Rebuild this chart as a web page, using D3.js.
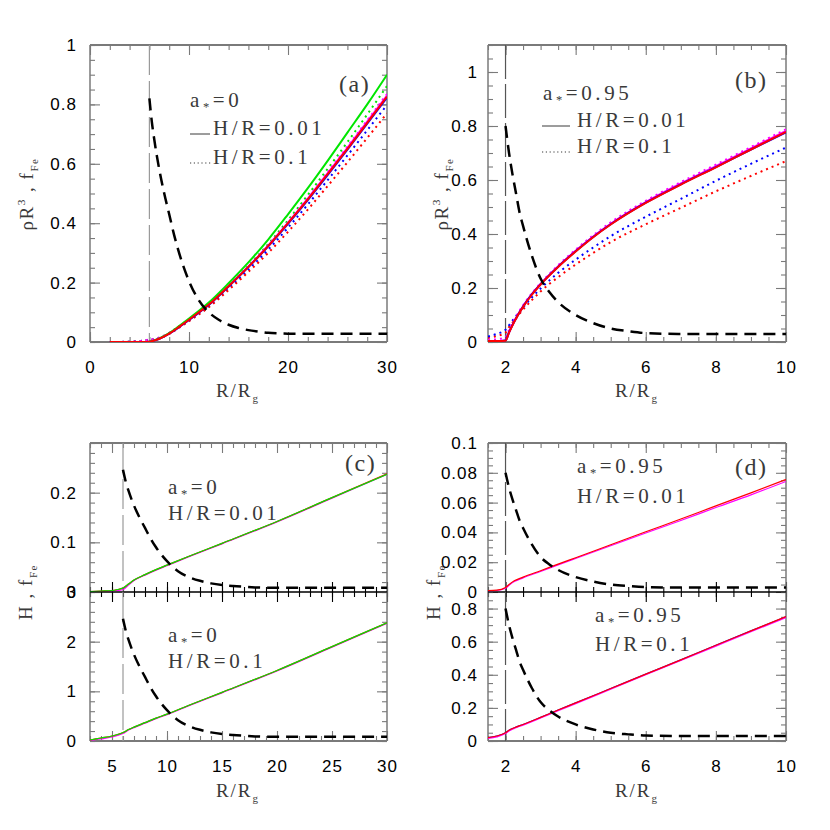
<!DOCTYPE html>
<html><head><meta charset="utf-8">
<script src="https://cdn.jsdelivr.net/npm/d3@7"></script>
<style>body{margin:0;background:#fff} svg{display:block}</style>
</head><body>
<svg id="chart" width="830" height="830"></svg>
<script>
// ---------------- DATA ----------------
// Panel (a): a*=0, rho R^3 vs R/Rg
const rA = [2,4,5,5.5,6,7,8,9,10,11,12,14,16,18,20,22,24,26,28,30];
const aGreenSolid   = [0,0,0,0,0.001,0.012,0.03,0.054,0.079,0.105,0.133,0.198,0.268,0.345,0.43,0.518,0.61,0.705,0.8,0.9];
const aMagentaSolid = [0,0,0,0,0.001,0.011,0.028,0.051,0.075,0.1,0.127,0.189,0.254,0.325,0.402,0.483,0.568,0.654,0.742,0.83];
const aBlueSolid    = [0,0,0,0,0.001,0.011,0.028,0.05,0.074,0.099,0.125,0.187,0.252,0.322,0.398,0.478,0.562,0.648,0.735,0.823];
const aRedSolid     = [0,0,0,0,0.001,0.011,0.028,0.051,0.075,0.1,0.126,0.188,0.253,0.323,0.4,0.48,0.565,0.65,0.738,0.826];
const aGreenDot     = [0,0.001,0.003,0.005,0.007,0.014,0.031,0.053,0.077,0.102,0.128,0.19,0.257,0.33,0.41,0.495,0.583,0.673,0.766,0.862];
const aMagentaDot   = [0,0.001,0.003,0.006,0.008,0.015,0.031,0.052,0.076,0.1,0.126,0.188,0.254,0.325,0.403,0.485,0.571,0.658,0.746,0.835];
const aBlueDot      = [0,0.001,0.003,0.005,0.007,0.013,0.029,0.05,0.073,0.097,0.121,0.181,0.244,0.311,0.385,0.463,0.545,0.628,0.713,0.798];
const aRedDot       = [0,0,0.002,0.004,0.006,0.012,0.027,0.048,0.07,0.093,0.117,0.175,0.236,0.3,0.371,0.446,0.525,0.605,0.687,0.77];
const rFeA = [6,6.25,6.5,7,7.5,8,8.5,9,10,11,12,13,14,15,16,17,18,19,20,30];
const aFe  = [0.82,0.74,0.68,0.58,0.5,0.43,0.36,0.3,0.205,0.14,0.1,0.075,0.058,0.047,0.04,0.035,0.031,0.029,0.028,0.028];

// Panel (b): a*=0.95
const rB = [1.5,1.75,2,2.1,2.25,2.5,2.75,3,3.5,4,4.5,5,6,7,8,9,10];
const bMagentaSolid = [0.004,0.004,0.006,0.036,0.077,0.132,0.177,0.215,0.28,0.338,0.391,0.438,0.518,0.587,0.651,0.717,0.782];
const bBlueSolid    = [0.004,0.004,0.006,0.036,0.076,0.131,0.176,0.214,0.279,0.336,0.389,0.436,0.516,0.584,0.648,0.713,0.776];
const bRedSolid     = [0.004,0.004,0.005,0.035,0.075,0.13,0.175,0.213,0.278,0.335,0.388,0.435,0.515,0.583,0.647,0.713,0.778];
const bMagentaDot   = [0.008,0.01,0.018,0.045,0.083,0.136,0.18,0.218,0.284,0.342,0.395,0.443,0.523,0.592,0.657,0.722,0.788];
const bBlueDot      = [0.02,0.03,0.045,0.062,0.088,0.128,0.165,0.198,0.256,0.305,0.35,0.392,0.464,0.53,0.597,0.66,0.72];
const bRedDot       = [0.015,0.022,0.035,0.055,0.08,0.12,0.155,0.187,0.24,0.287,0.33,0.37,0.436,0.497,0.558,0.615,0.67];
const rFeB = [2,2.1,2.2,2.3,2.4,2.5,2.75,3,3.25,3.5,4,4.5,5,5.5,6,7,10];
const bFe  = [0.8,0.7,0.62,0.55,0.48,0.43,0.32,0.235,0.185,0.148,0.1,0.07,0.05,0.04,0.033,0.03,0.03];

// Panel (c): a*=0, H vs R/Rg
const rC = [3,4,5,5.5,6,6.5,7,8,9,10,12,15,20,25,30];
const cTopMagenta = [0.0005,0.001,0.002,0.003,0.005,0.014,0.023,0.034,0.044,0.053,0.071,0.097,0.141,0.189,0.237];
const cTopRed     = [0.001,0.002,0.003,0.005,0.008,0.016,0.024,0.035,0.045,0.054,0.072,0.098,0.142,0.19,0.238];
const cTopGreen   = [0.001,0.002,0.003,0.005,0.008,0.016,0.024,0.035,0.045,0.054,0.072,0.098,0.142,0.19,0.237];
const cBotMagenta = [0.01,0.04,0.08,0.11,0.15,0.22,0.27,0.36,0.45,0.53,0.71,0.97,1.41,1.89,2.37];
const cBotRed     = [0.02,0.06,0.1,0.13,0.17,0.23,0.28,0.37,0.46,0.54,0.72,0.98,1.42,1.9,2.38];
const cBotGreen   = [0.02,0.06,0.1,0.13,0.17,0.23,0.28,0.37,0.46,0.54,0.72,0.98,1.42,1.9,2.38];
const cFeTop = [0.246,0.222,0.204,0.174,0.15,0.129,0.108,0.09,0.062,0.042,0.03,0.0225,0.0174,0.0141,0.012,0.0105,0.0093,0.0087,0.0084,0.0084];
const cFeBot = [2.46,2.22,2.04,1.74,1.5,1.29,1.08,0.9,0.62,0.42,0.3,0.225,0.174,0.141,0.12,0.105,0.093,0.087,0.084,0.084];

// Panel (d): a*=0.95, H vs R/Rg
const rD = [1.5,1.75,2,2.1,2.25,2.5,3,3.5,4,5,6,7,8,9,10];
const dTopMagenta = [0.0008,0.001,0.0025,0.0045,0.007,0.0095,0.0138,0.0182,0.0225,0.031,0.0396,0.048,0.0567,0.0652,0.0742];
const dTopRed     = [0.001,0.0012,0.003,0.005,0.0075,0.01,0.0143,0.0187,0.023,0.0317,0.0404,0.049,0.0578,0.0665,0.0755];
const dBotBlue    = [0.02,0.03,0.05,0.065,0.08,0.1,0.143,0.187,0.23,0.317,0.404,0.49,0.578,0.665,0.75];
const dBotMagenta = [0.015,0.025,0.045,0.06,0.076,0.096,0.139,0.183,0.226,0.313,0.4,0.486,0.573,0.66,0.746];
const dBotRed     = [0.02,0.03,0.05,0.065,0.08,0.1,0.143,0.187,0.23,0.317,0.404,0.49,0.578,0.665,0.752];
const dFeTop = [0.08,0.07,0.062,0.055,0.048,0.043,0.032,0.0235,0.0185,0.0148,0.01,0.007,0.005,0.004,0.0033,0.003,0.003];
const dFeBot = [0.8,0.7,0.62,0.55,0.48,0.43,0.32,0.235,0.185,0.148,0.1,0.07,0.05,0.04,0.033,0.03,0.03];

// Tick labels
const xLabA = [0,10,20,30];
const xLabB = [2,4,6,8,10];
const xLabC = [5,10,15,20,25,30];
const yLabA = [0,0.2,0.4,0.6,0.8,1];
const yLabCTop = [0,0.1,0.2];
const yLabCBot = [0,1,2,3];
const yLabDTop = [0,0.02,0.04,0.06,0.08,0.1];
const yLabDBot = [0,0.2,0.4,0.6,0.8];

// ---------------- DRAWING ----------------
const svg = d3.select("#chart");
const FRAME = "#7a7a7a";
const TXT = "#3a3a3a";
const SERIF = "'Liberation Serif','DejaVu Serif',serif";
const SANS = "'Liberation Sans',Arial,sans-serif";
const COL = {red:"#ff0000", green:"#00e600", blue:"#0000ff", magenta:"#ff00ff"};

function steps(lo, hi, step){
  const n = Math.floor((hi-lo)/step + 1e-6);
  return d3.range(n+1).map(i => +(lo+i*step).toFixed(6)).filter(v => v <= hi + 1e-9);
}
const fmt = d => String(+(+d).toFixed(3));

let clipId = 0;
function panel(o){
  const x = d3.scaleLinear().domain(o.xd).range([o.l, o.r]);
  const y = d3.scaleLinear().domain(o.yd).range([o.b, o.t]);
  const g = svg.append("g");
  const xMin = steps(o.xd[0], o.xd[1], o.xMin);
  const xMaj = o.xMaj;
  const yMin = steps(o.yd[0], o.yd[1], o.yMin);
  const yMaj = steps(o.yd[0], o.yd[1], o.yMajStep);
  const ax = (gen, tr, vals, size, labels, col) => {
    const a = gen.tickValues(vals).tickSize(-size).tickPadding(o.pad || 12)
      .tickFormat(labels ? fmt : "");
    const s = g.append("g").attr("transform", tr).call(a);
    s.select(".domain").remove();
    s.selectAll("line").attr("stroke", col || FRAME).attr("stroke-width", 1.1);
    s.selectAll("text").attr("font-family", SANS).attr("font-size", 17).attr("fill", "#000")
      .attr("letter-spacing", 1);
    return s;
  };
  ax(d3.axisLeft(y), `translate(${o.l},0)`, yMin, 5, false);
  ax(d3.axisLeft(y), `translate(${o.l},0)`, yMaj, 10, false);
  if (o.yLab) ax(d3.axisLeft(y), `translate(${o.l},0)`, o.yLab, 0, true);
  ax(d3.axisRight(y), `translate(${o.r},0)`, yMin, 5, false);
  ax(d3.axisRight(y), `translate(${o.r},0)`, yMaj, 10, false);
  const bCol = o.bottomBlack ? "#000" : FRAME;
  const tCol = o.topBlack ? "#000" : FRAME;
  ax(d3.axisBottom(x), `translate(0,${o.b})`, xMin, 5, false, bCol);
  ax(d3.axisBottom(x), `translate(0,${o.b})`, xMaj, 10, false, bCol);
  if (o.xLab){
    const s = ax(d3.axisBottom(x), `translate(0,${o.b})`, o.xLab, 0, true);
    s.selectAll("text").attr("dy", "0.71em").attr("y", 19);
  }
  ax(d3.axisTop(x), `translate(0,${o.t})`, xMin, 5, false, tCol);
  ax(d3.axisTop(x), `translate(0,${o.t})`, xMaj, 10, false, tCol);
  const fl = (x1,x2,y1,y2,c,w) => g.append("line").attr("x1",x1).attr("x2",x2).attr("y1",y1).attr("y2",y2).attr("stroke",c).attr("stroke-width",w);
  fl(o.l,o.l,o.t,o.b,FRAME,1.5);
  fl(o.r,o.r,o.t,o.b,FRAME,1.5);
  fl(o.l,o.r,o.t,o.t,tCol,o.topBlack?1.2:1.8);
  fl(o.l,o.r,o.b,o.b,bCol,o.bottomBlack?1.2:1.8);
  const id = "clip" + (clipId++);
  svg.append("clipPath").attr("id", id).append("rect")
    .attr("x", o.l).attr("y", o.t-1).attr("width", o.r-o.l).attr("height", o.b-o.t+1);
  const plot = svg.append("g").attr("clip-path", `url(#${id})`);
  return {x, y, plot};
}

function curve(P, rs, vs, color, style, width){
  const line = d3.line().x(d=>P.x(d[0])).y(d=>P.y(d[1])).curve(d3.curveMonotoneX);
  const pts = rs.map((r,i)=>[r, vs[i]]);
  const p = P.plot.append("path").attr("d", line(pts)).attr("fill","none")
    .attr("stroke", color).attr("stroke-width", width);
  if (style === "dot") p.attr("stroke-dasharray", "2,4");
  if (style === "dash") p.attr("stroke-dasharray", "12,7");
  return p;
}
function vline(P, xv, y0, y1, color, dash){
  P.plot.append("line").attr("x1",P.x(xv)).attr("x2",P.x(xv))
    .attr("y1", y0).attr("y2", y1).attr("stroke", color).attr("stroke-width", 1.2)
    .attr("stroke-dasharray", dash);
}

// rich text helper: parts [{t, sub, sup, star}]
function rich(sel, parts, fs){
  let cur = 0;
  parts.forEach(p => {
    let target = 0, size = fs;
    if (p.sub){ target = fs*0.28; size = fs*0.58; }
    if (p.star){ target = fs*0.2; size = fs*0.6; }
    if (p.sup){ target = -fs*0.42; size = fs*0.6; }
    const t = sel.append("tspan").text(p.t).attr("font-size", size);
    if (Math.abs(target - cur) > 1e-9) t.attr("dy", target - cur);
    cur = target;
  });
}
function label(x, y, parts, fs, opts={}){
  const t = svg.append("text").attr("x", x).attr("y", y)
    .attr("font-family", SERIF).attr("font-size", fs).attr("fill", opts.fill || TXT)
    .attr("letter-spacing", opts.ls !== undefined ? opts.ls : 3.6)
    .attr("text-anchor", opts.anchor || "start");
  if (opts.rotate) t.attr("transform", `rotate(-90,${x},${y})`);
  rich(t, parts, fs);
  return t;
}

// ---------- Panel (a) ----------
const PA = panel({l:90, r:387, t:45, b:342, xd:[0,30], yd:[0,1],
  xMin:2, xMaj:[0,10,20,30], yMin:0.05, yMajStep:0.2, xLab:xLabA, yLab:yLabA, pad:13});
vline(PA, 6, 45, 342, "#9a9a9a", "30,6");
curve(PA, rA, aGreenDot, COL.green, "dot", 2);
curve(PA, rA, aBlueDot, COL.blue, "dot", 2);
curve(PA, rA, aRedDot, COL.red, "dot", 2);
curve(PA, rA, aMagentaDot, COL.magenta, "dot", 2);
curve(PA, rA, aMagentaSolid, COL.magenta, "solid", 2);
curve(PA, rA, aBlueSolid, COL.blue, "solid", 2);
curve(PA, rA, aGreenSolid, COL.green, "solid", 2);
curve(PA, rA, aRedSolid, COL.red, "solid", 2);
curve(PA, rFeA, aFe, "#000", "dash", 2.5);

// ---------- Panel (b) ----------
const PB = panel({l:488, r:786, t:45, b:342, xd:[1.5,10], yd:[0,1.1],
  xMin:0.5, xMaj:[2,4,6,8,10], yMin:0.05, yMajStep:0.2, xLab:xLabB, yLab:yLabA, pad:10});
vline(PB, 2, 45, 342, "#555", "34,5");
curve(PB, rB, bRedDot, COL.red, "dot", 2);
curve(PB, rB, bBlueDot, COL.blue, "dot", 2);
curve(PB, rB, bMagentaDot, COL.magenta, "dot", 2);
curve(PB, rB, bMagentaSolid, COL.magenta, "solid", 2);
curve(PB, rB, bBlueSolid, COL.blue, "solid", 2);
curve(PB, rB, bRedSolid, COL.red, "solid", 2);
curve(PB, rFeB, bFe, "#000", "dash", 2.5);

// ---------- Panel (c) ----------
const PCt = panel({l:90, r:387, t:443, b:592, xd:[3,30], yd:[0,0.3],
  xMin:1, xMaj:[5,10,15,20,25,30], yMin:0.02, yMajStep:0.1, yLab:yLabCTop, bottomBlack:true, pad:13});
const PCb = panel({l:90, r:387, t:592, b:741, xd:[3,30], yd:[0,3],
  xMin:1, xMaj:[5,10,15,20,25,30], yMin:0.2, yMajStep:1, yLab:yLabCBot, xLab:xLabC, topBlack:true, pad:13});
vline(PCt, 6, 443, 592, "#9a9a9a", "30,6");
vline(PCb, 6, 592, 741, "#9a9a9a", "30,6");
curve(PCt, rC, cTopMagenta, COL.magenta, "solid", 1.2);
curve(PCt, rC, cTopRed, COL.red, "solid", 1.2);
curve(PCt, rC, cTopGreen, COL.green, "solid", 1.2);
curve(PCt, rFeA, cFeTop, "#000", "dash", 2.5);
curve(PCb, rC, cBotMagenta, COL.magenta, "solid", 1.2);
curve(PCb, rC, cBotRed, COL.red, "solid", 1.2);
curve(PCb, rC, cBotGreen, COL.green, "solid", 1.2);
curve(PCb, rFeA, cFeBot, "#000", "dash", 2.5);

// ---------- Panel (d) ----------
const PDt = panel({l:488, r:786, t:443, b:592, xd:[1.5,10], yd:[0,0.1],
  xMin:0.5, xMaj:[2,4,6,8,10], yMin:0.005, yMajStep:0.02, yLab:yLabDTop, bottomBlack:true, pad:10});
const PDb = panel({l:488, r:786, t:592, b:741, xd:[1.5,10], yd:[0,0.9],
  xMin:0.5, xMaj:[2,4,6,8,10], yMin:0.05, yMajStep:0.2, yLab:yLabDBot, xLab:xLabB, topBlack:true, pad:10});
vline(PDt, 2, 443, 592, "#555", "34,5");
vline(PDb, 2, 592, 741, "#555", "34,5");
curve(PDt, rD, dTopMagenta, COL.magenta, "solid", 1.2);
curve(PDt, rD, dTopRed, COL.red, "solid", 1.2);
curve(PDt, rFeB, dFeTop, "#000", "dash", 2.5);
curve(PDb, rD, dBotBlue, COL.blue, "solid", 1.2);
curve(PDb, rD, dBotMagenta, COL.magenta, "solid", 1.2);
curve(PDb, rD, dBotRed, COL.red, "solid", 1.2);
curve(PDb, rFeB, dFeBot, "#000", "dash", 2.5);

// ---------- Texts ----------
const FS = 21;
const aStar = v => [{t:"a"},{t:"*",star:true},{t:v}];
// (a)
label(190, 107, aStar("=0"), FS);
label(213, 135, [{t:"H/R=0.01"}], FS);
label(213, 164, [{t:"H/R=0.1"}], FS);
svg.append("line").attr("x1",190).attr("x2",210).attr("y1",134).attr("y2",134).attr("stroke",TXT).attr("stroke-width",1);
svg.append("line").attr("x1",190).attr("x2",211).attr("y1",163).attr("y2",163).attr("stroke",TXT).attr("stroke-width",1.2).attr("stroke-dasharray","1.2,2.6");
label(339, 92, [{t:"(a)"}], 24, {ls:1.5});
// (b)
label(543, 100, aStar("=0.95"), FS);
label(577, 127, [{t:"H/R=0.01"}], FS);
label(577, 153, [{t:"H/R=0.1"}], FS);
svg.append("line").attr("x1",542).attr("x2",570).attr("y1",126).attr("y2",126).attr("stroke",TXT).attr("stroke-width",1);
svg.append("line").attr("x1",542).attr("x2",571).attr("y1",152).attr("y2",152).attr("stroke",TXT).attr("stroke-width",1.2).attr("stroke-dasharray","1.2,2.6");
label(735, 88, [{t:"(b)"}], 24, {ls:1.5});
// (c)
label(168, 494, aStar("=0"), FS);
label(168, 520, [{t:"H/R=0.01"}], FS);
label(345, 471, [{t:"(c)"}], 24, {ls:1.5});
label(168, 642, aStar("=0"), FS);
label(168, 668, [{t:"H/R=0.1"}], FS);
// (d)
label(577, 473, aStar("=0.95"), FS);
label(577, 503, [{t:"H/R=0.01"}], FS);
label(735, 475, [{t:"(d)"}], 24, {ls:1.5});
label(595, 622, aStar("=0.95"), FS);
label(595, 651, [{t:"H/R=0.1"}], FS);

// axis titles
const AFS = 19;
const rg = [{t:"R/R"},{t:"g",sub:true}];
label(238, 397, rg, AFS, {anchor:"middle", ls:2});
label(637, 397, rg, AFS, {anchor:"middle", ls:2});
label(238, 797, rg, AFS, {anchor:"middle", ls:2});
label(637, 797, rg, AFS, {anchor:"middle", ls:2});
const rhoT = [{t:"ρR"},{t:"3",sup:true},{t:"  ,  f"},{t:"Fe",sub:true}];
const hT = [{t:"H  ,  f"},{t:"Fe",sub:true}];
label(33, 194, rhoT, AFS, {anchor:"middle", ls:1.5, rotate:true});
label(448, 194, rhoT, AFS, {anchor:"middle", ls:1.5, rotate:true});
label(32, 592, hT, AFS, {anchor:"middle", ls:1.5, rotate:true});
label(440, 592, hT, AFS, {anchor:"middle", ls:1.5, rotate:true});
</script>
</body></html>
